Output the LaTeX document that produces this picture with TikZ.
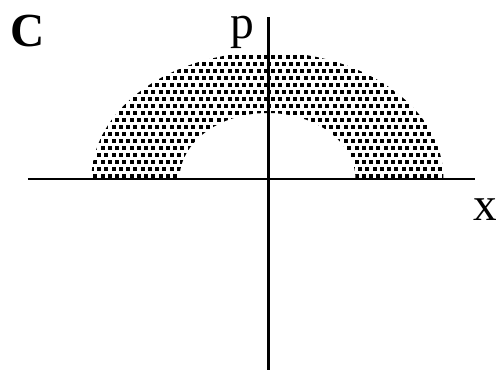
\documentclass[tikz,border=0pt]{standalone}
\usepackage{fontspec}
\setmainfont{Liberation Serif}
\usepackage{tikz}
\usetikzlibrary{positioning}

\begin{document}
\begin{tikzpicture}[
    axis/.style={line width=1.4pt},
    label/.style={font=\fontsize{27}{30}\selectfont, inner sep=0pt},
    dot/.style={fill=black}]
    \useasboundingbox (-5.35, -3.88) rectangle (4.57, 3.58);

    % shaded half ring, dotted by hand
    \begin{scope}
        \clip (3.52, 0) arc (0:180:3.52 and 2.54) -- (-1.76, 0)
            arc (180:0:1.76 and 1.32) -- cycle;
        \foreach \row in {0,...,19} {
            \foreach \col in {-26,...,26} {
                \pgfmathsetmacro{\xx}{\col*0.145 + mod(\row,2)*0.072}
                \pgfmathsetmacro{\yy}{\row*0.14 + 0.01}
                \fill[dot] (\xx, \yy) rectangle ++(0.08, 0.08);
            }
        }
    \end{scope}

    \coordinate (xl) at (-4.79, 0);
    \coordinate (xr) at (4.15, 0);
    \coordinate (pb) at (0.02, -3.82);
    \coordinate (pt) at (0.02, 3.24);
    \draw[axis] (xl) -- (xr);
    \draw[axis] (pb) -- (pt);

    \node[label, font=\fontsize{27}{30}\selectfont\bfseries] (panel) at (-4.79, 2.96) {C};
    \node[label, anchor=base] (plabel) at (-0.51, 2.80) {p};
    \node[label, anchor=base] (xlabel) at (4.35, -0.84) {x};
\end{tikzpicture}
\end{document}
